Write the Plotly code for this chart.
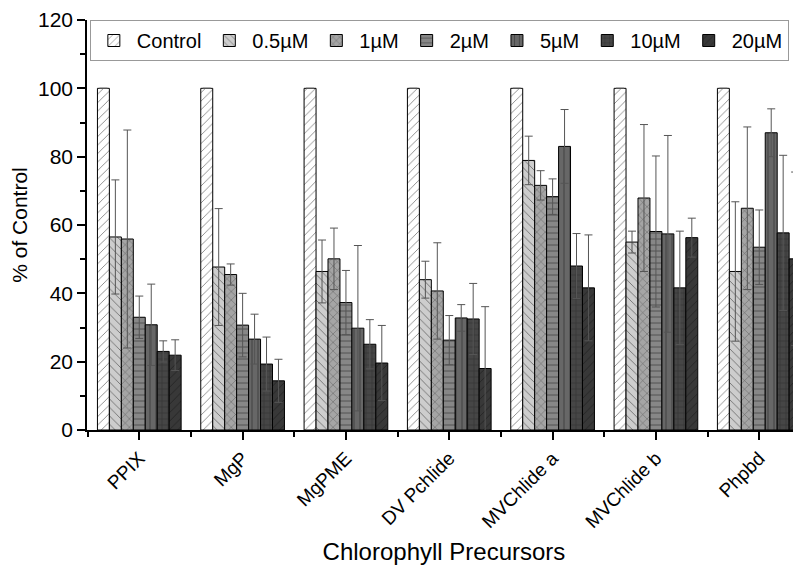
import plotly.graph_objects as go

categories = ["PPIX", "MgP", "MgPME", "DV Pchlide", "MVChlide a", "MVChlide b", "Phpbd"]
series_names = ["Control", "0.5µM", "1µM", "2µM", "5µM", "10µM", "20µM"]

control = [100, 100, 100, 100, 100, 100, 100]
c05 = [56.5, 47.7, 46.4, 44.0, 78.9, 55.0, 46.4]
c1 = [55.9, 45.5, 50.1, 40.7, 71.6, 67.9, 64.9]
c2 = [33.0, 30.7, 37.3, 26.3, 68.3, 58.1, 53.5]
c5 = [30.8, 26.6, 29.8, 32.8, 83.0, 57.4, 87.0]
c10 = [23.0, 19.3, 25.1, 32.5, 48.0, 41.6, 57.7]
c20 = [21.9, 14.4, 19.6, 18.0, 41.6, 56.3, 50.1]

err_control = [0, 0, 0, 0, 0, 0, 0]
err05 = [16.7, 17.1, 9.2, 5.4, 7.1, 3.2, 20.4]
err1 = [31.9, 3.1, 9.0, 14.1, 4.3, 21.5, 23.8]
err2 = [6.2, 9.3, 9.4, 7.2, 5.2, 22.1, 10.9]
err5 = [11.9, 7.3, 24.2, 3.9, 10.8, 28.8, 7.0]
err10 = [3.1, 7.9, 7.2, 10.4, 9.5, 16.6, 22.7]
err20 = [4.5, 6.3, 11.0, 18.1, 15.5, 5.7, 25.4]

values = [control, c05, c1, c2, c5, c10, c20]
errors = [err_control, err05, err1, err2, err5, err10, err20]

fills = ["#ffffff", "#cdcdcd", "#a5a5a5", "#878787", "#676767", "#464646", "#383838"]
shapes = ["/", "\\", "x", "-", "|", "+", "/"]

x = list(range(len(categories)))
FONT = "Arial, Liberation Sans, sans-serif"

fig = go.Figure()
for name, vals, errs, fc, sh in zip(series_names, values, errors, fills, shapes):
    fig.add_trace(go.Bar(
        name=name, x=x, y=vals,
        marker=dict(color=fc, line=dict(color="black", width=1),
                    pattern=dict(shape=sh, fillmode="overlay", fgcolor="#111111",
                                 bgcolor=fc, size=6, solidity=0.15)),
        error_y=dict(type="data", array=errs, visible=True, color="#555555",
                     thickness=1, width=4),
    ))

fig.update_layout(
    width=793, height=560,
    margin=dict(l=79, r=0, t=12, b=138, autoexpand=False),
    paper_bgcolor="white", plot_bgcolor="white",
    barmode="group", bargap=0.19, bargroupgap=0,
    font=dict(family=FONT, color="black", size=20),
    legend=dict(orientation="h", x=0.004, y=1.0, xanchor="left", yanchor="top",
                bordercolor="#999999", borderwidth=1, bgcolor="white",
                font=dict(size=20, family=FONT), itemwidth=36,
                tracegroupgap=0),
    xaxis=dict(range=[-0.506, 6.404], tickmode="array", tickvals=x, ticktext=categories,
               tickangle=-45, ticks="outside", ticklen=8, tickwidth=1.5, tickcolor="black",
               showline=True, linecolor="black", linewidth=1.5, showgrid=False, zeroline=False,
               tickfont=dict(size=19, family=FONT), automargin=False,
               minor=dict(tickmode="linear", tick0=0.5, dtick=1, ticks="outside",
                          ticklen=5, tickwidth=1.5, tickcolor="black", showgrid=False),
               title=dict(text="Chlorophyll Precursors", font=dict(size=24, family=FONT),
                          standoff=12)),
    yaxis=dict(range=[0, 120], tickmode="array", tickvals=[0, 20, 40, 60, 80, 100, 120],
               ticks="outside", ticklen=8, tickwidth=1.5, tickcolor="black",
               showline=True, linecolor="black", linewidth=1.5, showgrid=False, zeroline=False,
               tickfont=dict(size=21, family=FONT), automargin=False,
               minor=dict(tickmode="linear", tick0=10, dtick=20, ticks="outside",
                          ticklen=5, tickwidth=1.5, tickcolor="black", showgrid=False),
               title=dict(text="% of Control", font=dict(size=21, family=FONT), standoff=6)),
)

fig.write_html("out.html")
